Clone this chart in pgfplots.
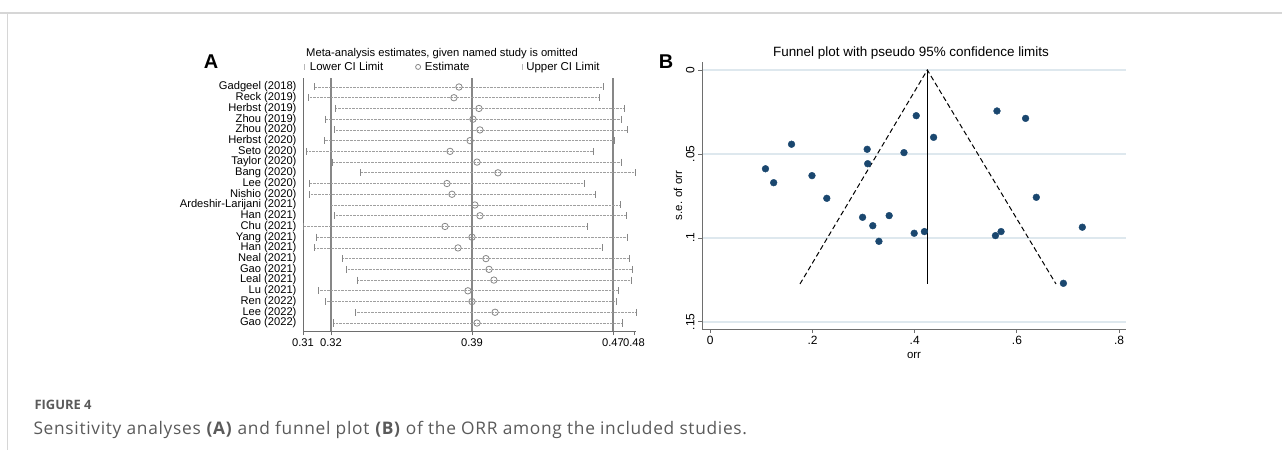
\documentclass[border=0pt]{standalone}
\usepackage{pgfplots}
\pgfplotsset{compat=1.18}
\usepackage{pgfplotstable}
\usepackage{fontspec}
\setmainfont{Liberation Sans}
\newfontfamily\capfont{Open Sans}
\newfontfamily\capfontwide[LetterSpace=4]{Open Sans}

\definecolor{stblue}{RGB}{26,71,111}
\definecolor{gridc}{RGB}{222,232,238}
\definecolor{capgray}{RGB}{90,90,90}
\definecolor{framec}{RGB}{214,214,214}
\definecolor{axgray}{RGB}{110,110,110}
\definecolor{refgray}{RGB}{135,135,135}

% sensitivity analysis: row, lower CI, estimate, upper CI
\pgfplotstableread{
y  L      E      U
23 0.3116 0.3863 0.4605
22 0.3085 0.3837 0.4585
21 0.3224 0.3966 0.4714
20 0.3172 0.3935 0.4698
19 0.3219 0.3971 0.4729
18 0.3167 0.3920 0.4662
17 0.3079 0.3817 0.4554
16 0.3208 0.3956 0.4698
15 0.3353 0.4064 0.4770
14 0.3090 0.3801 0.4507
13 0.3090 0.3827 0.4564
12 0.3198 0.3945 0.4693
11 0.3219 0.3971 0.4724
10 0.3059 0.3791 0.4523
9  0.3126 0.3930 0.4729
8  0.3116 0.3858 0.4600
7  0.3260 0.4002 0.4739
6  0.3281 0.4018 0.4755
5  0.3337 0.4043 0.4750
4  0.3136 0.3909 0.4683
3  0.3177 0.3930 0.4672
2  0.3327 0.4049 0.4775
1  0.3214 0.3956 0.4703
}\sens

% funnel plot: orr, standard error
\pgfplotstableread{
orr   se
0.561 0.0244
0.617 0.0288
0.403 0.0272
0.437 0.0401
0.159 0.0442
0.307 0.0472
0.379 0.0492
0.308 0.0558
0.108 0.0588
0.199 0.0629
0.124 0.0671
0.228 0.0764
0.298 0.0877
0.318 0.0927
0.350 0.0867
0.330 0.1020
0.399 0.0972
0.419 0.0962
0.558 0.0986
0.569 0.0962
0.728 0.0936
0.691 0.1270
0.638 0.0758
}\funnel

\begin{document}
\begin{tikzpicture}[x=1bp,y=-1bp]
\useasboundingbox (0,0) rectangle (1282,450);
\draw[framec, line width=1.3bp] (0,13) -- (1282,13);
\draw[framec, line width=1bp] (7,13) -- (7,450);

% ---------------- panel A
\node[font=\bfseries\fontsize{20}{20}\selectfont] at (211,62) {A};
\node[font=\fontsize{11.25}{12}\selectfont] at (442,54) {Meta-analysis estimates, given named study is omitted};
\begin{axis}[
    at={(303bp,-331bp)}, anchor=south west,
    scale only axis, width=332.9bp, height=253bp,
    xmin=0.3059, xmax=0.4775, ymin=0.254, ymax=23.839,
    axis x line*=bottom, axis y line*=left,
    axis line style={axgray, line width=0.9bp},
    xtick={0.3059,0.3203,0.3930,0.4657,0.4765},
    xticklabels={0.31,0.32,0.39,0.47,0.48},
    extra x ticks={0.3203,0.3930,0.4657}, extra x tick labels={},
    extra x tick style={grid=major, major grid style={refgray, line width=1.2bp}},
    ytick={1,...,23},
    yticklabels={Gao (2022),Lee (2022),Ren (2022),Lu (2021),Leal (2021),Gao (2021),Neal (2021),Han (2021),Yang (2021),Chu (2021),Han (2021),Ardeshir-Larijani (2021),Nishio (2020),Lee (2020),Bang (2020),Taylor (2020),Seto (2020),Herbst (2020),Zhou (2020),Zhou (2019),Herbst (2019),Reck (2019),Gadgeel (2018)},
    ytick style={draw=none},
    xtick style={axgray, line width=0.8bp},
    tick align=outside, major tick length=4bp,
    /pgf/number format/assume math mode=true,
    ticklabel style={font=\fontsize{11.2}{11}\selectfont},
    yticklabel style={xshift=1bp},
    clip=false,
    legend style={at={(0,1)}, anchor=south west, yshift=4bp, xshift=1bp, draw=none, fill=none,
        inner sep=0pt, font=\fontsize{11.5}{12}\selectfont, legend columns=3,
        /tikz/column 1/.style={column sep=3bp},
        /tikz/column 2/.style={column sep=30bp},
        /tikz/column 3/.style={column sep=2bp},
        /tikz/column 4/.style={column sep=50bp},
        /tikz/column 5/.style={column sep=2bp}},
    legend cell align=left,
]
% dotted CI lines
\addplot[forget plot, draw=none, mark=none,
    error bars/.cd, x dir=both, x explicit, error mark=none,
    error bar style={refgray!80, densely dotted, line width=0.7bp}]
    table[x=E, y=y, x error plus expr=\thisrow{U}-\thisrow{E}, x error minus expr=\thisrow{E}-\thisrow{L}] {\sens};
\addplot[only marks, mark=|, mark size=3.5bp, mark options={refgray, line width=0.8bp},
    legend image code/.code={\draw[refgray!60, line width=0.8bp] (0bp,-3bp) -- (0bp,3bp);}]
    table[x=L, y=y] {\sens};
\addlegendentry{Lower CI Limit}
\addplot[only marks, mark=o, mark size=3.2bp, mark options={refgray, fill=white, line width=0.8bp},
    legend image code/.code={\draw[refgray, line width=0.8bp] (0bp,0bp) circle (2.5bp);}]
    table[x=E, y=y] {\sens};
\addlegendentry{Estimate}
\addplot[only marks, mark=|, mark size=3.5bp, mark options={refgray, line width=0.8bp},
    legend image code/.code={\draw[refgray!60, line width=0.8bp] (0bp,-3bp) -- (0bp,3bp);}]
    table[x=U, y=y] {\sens};
\addlegendentry{Upper CI Limit}
\end{axis}

% ---------------- panel B
\node[font=\bfseries\fontsize{20}{20}\selectfont] at (666,62) {B};
\node[font=\fontsize{13.5}{14}\selectfont] at (911,53) {Funnel plot with pseudo 95\% confidence limits};
\begin{axis}[
    at={(702bp,-329bp)}, anchor=south west,
    scale only axis, width=424bp, height=267bp,
    xmin=-0.0162, xmax=0.8135, ymin=-0.1542, ymax=0.00476,
    axis x line*=bottom, axis y line*=left,
    axis line style={axgray, line width=1bp},
    xtick={0,0.2,0.4,0.6,0.8}, xticklabels={0,.2,.4,.6,.8},
    ytick={-0.15,-0.1,-0.05,0}, yticklabels={.15,.1,.05,0},
    ymajorgrids, major grid style={gridc, line width=1.2bp},
    tick style={axgray, line width=0.9bp},
    tick align=outside, major tick length=4bp,
    /pgf/number format/assume math mode=true,
    ticklabel style={font=\fontsize{12}{12}\selectfont},
    yticklabel style={rotate=90, anchor=south, xshift=0bp},
    xlabel={orr}, ylabel={s.e. of orr},
    label style={font=\fontsize{11.5}{11}\selectfont},
    xlabel style={yshift=-1bp},
    ylabel style={yshift=-3bp},
    clip=false,
]
\addplot[black, dashed, line width=1bp, dash pattern=on 5bp off 3bp] coordinates {(0.1755,-0.1274)(0.4247,0)(0.6765,-0.1274)};
\addplot[black, line width=1bp] coordinates {(0.4247,0)(0.4247,-0.1274)};
\addplot[only marks, mark=*, mark size=3.4bp, mark options={stblue, draw=stblue}]
    table[x=orr, y expr=-\thisrow{se}] {\funnel};
\end{axis}

% ---------------- caption
\node[anchor=west, text=capgray, font=\capfont\bfseries\fontsize{13}{13}\selectfont] at (31,405) {FIGURE 4};
\node[anchor=west, text=capgray, font=\capfontwide\fontsize{17.4}{18}\selectfont] at (30,430) {Sensitivity analyses \textbf{(A)} and funnel plot \textbf{(B)} of the ORR among the included studies.};
\end{tikzpicture}
\end{document}
